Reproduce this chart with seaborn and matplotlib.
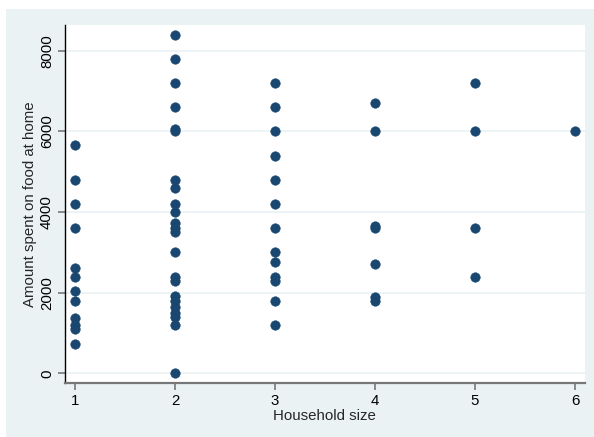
import matplotlib
matplotlib.use("Agg")
import matplotlib.pyplot as plt
from matplotlib.patches import Rectangle
import seaborn as sns
import pandas as pd

hhsize_1 = [5650, 4800, 4200, 3600, 2600, 2400, 2050, 1800, 1380, 1200, 1100, 720]
hhsize_2 = [8400, 7800, 7200, 6600, 6050, 6000, 4800, 4600, 4200, 4000, 3720, 3600, 3500,
            3000, 2400, 2300, 1920, 1800, 1650, 1500, 1400, 1200, 0]
hhsize_3 = [7200, 6600, 6000, 5400, 4800, 4200, 3600, 3000, 2750, 2400, 2280, 1800, 1200]
hhsize_4 = [6700, 6000, 3650, 3600, 2700, 1900, 1800]
hhsize_5 = [7200, 6000, 3600, 2400]
hhsize_6 = [6000]

sizes = [1, 2, 3, 4, 5, 6]
groups = [hhsize_1, hhsize_2, hhsize_3, hhsize_4, hhsize_5, hhsize_6]
x_vals, y_vals = [], []
for s, g in zip(sizes, groups):
    x_vals += [s] * len(g)
    y_vals += g
df = pd.DataFrame({"Household size": x_vals, "Amount spent on food at home": y_vals})

y_ticks = [0, 2000, 4000, 6000, 8000]
x_ticks = [1, 2, 3, 4, 5, 6]

sns.set_theme(style="white")
plt.rcParams['font.family'] = ['Liberation Sans', 'DejaVu Sans']

fig = plt.figure(figsize=(5.94, 4.37), dpi=100)
fig.patch.set_facecolor("white")
bg = Rectangle((6 / 594, 0), 1 - 6 / 594, (437 - 9) / 437, transform=fig.transFigure,
               facecolor="#EAF2F3", edgecolor="none", zorder=-10)
fig.patches.append(bg)

ax = fig.add_axes([65 / 594, (437 - 383) / 437, (584.7 - 65) / 594, (383 - 25) / 437])
ax.set_facecolor("white")

sns.scatterplot(data=df, x="Household size", y="Amount spent on food at home", ax=ax,
                color="#1a476f", s=48, edgecolor="#1a476f", linewidth=0.3, zorder=3)

ax.set_xlim(0.9, 6.097)
ax.set_ylim(-241, 8637)
ax.set_xticks(x_ticks)
ax.set_yticks(y_ticks)
ax.set_yticklabels([str(v) for v in y_ticks], rotation=90, va="center")
ax.grid(axis="y", color="#EAF2F3", linewidth=1.2)
ax.grid(axis="x", visible=False)
ax.set_axisbelow(True)

for side in ["top", "right"]:
    ax.spines[side].set_visible(False)
ax.spines["left"].set_color("#000000")
ax.spines["left"].set_linewidth(1.0)
ax.spines["bottom"].set_color("#777777")
ax.spines["bottom"].set_linewidth(1.6)

ax.tick_params(axis="both", which="major", direction="out", length=5, width=1.2,
               color="#777777", labelsize=10.8, labelcolor="black", pad=3, bottom=True, left=True)
ax.set_xlabel("Household size", fontsize=10.8, labelpad=1)
ax.set_ylabel("Amount spent on food at home", fontsize=10.8, labelpad=2)

fig.savefig("out.png", dpi=100, facecolor=fig.get_facecolor())
